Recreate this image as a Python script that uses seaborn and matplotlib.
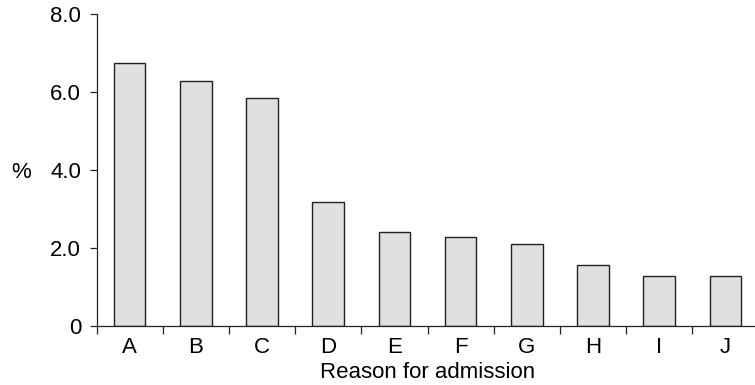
import matplotlib
matplotlib.use("Agg")
import matplotlib.pyplot as plt
import seaborn as sns
import pandas as pd
import numpy as np

# data
reasons = ["A", "B", "C", "D", "E", "F", "G", "H", "I", "J"]
percent = [6.73, 6.28, 5.84, 3.17, 2.40, 2.28, 2.09, 1.56, 1.28, 1.28]
y_ticks = [0, 2, 4, 6, 8]
y_tick_labels = ["0", "2.0", "4.0", "6.0", "8.0"]

df = pd.DataFrame({"reason": reasons, "percent": percent})

sns.set_style("ticks")
plt.rcParams["font.family"] = ["Liberation Sans", "DejaVu Sans"]
plt.rcParams["font.size"] = 16
for k in ["text.color", "axes.labelcolor", "xtick.color", "ytick.color",
          "xtick.labelcolor", "ytick.labelcolor"]:
    plt.rcParams[k] = "black"

fig = plt.figure(figsize=(7.55, 3.85), dpi=100)
ax = fig.add_axes([96.5 / 755, (385 - 325.5) / 385, 662 / 755, (325.5 - 13.7) / 385])

sns.barplot(data=df, x="reason", y="percent", color="#e0e0e0", saturation=1,
            edgecolor="#222222", linewidth=1.0, width=0.48, ax=ax)

ax.set_xlim(-0.5, len(reasons) - 0.5)
ax.set_ylim(0, 8)
ax.set_yticks(y_ticks)
ax.set_yticklabels(y_tick_labels)

# ticks between categories on the x axis
ax.set_xticks(np.arange(len(reasons) + 1) - 0.5, minor=True)
ax.tick_params(axis="x", which="major", length=0, pad=8, labelsize=16)
ax.tick_params(axis="x", which="minor", length=6, width=0.9, color="#222222")
ax.tick_params(axis="y", length=5, width=0.9, pad=6, labelsize=16, color="#222222")

sns.despine(ax=ax)
for s in ["left", "bottom"]:
    ax.spines[s].set_linewidth(0.9)
    ax.spines[s].set_color("#222222")

ax.set_xlabel("Reason for admission", fontsize=16, labelpad=3)
ax.set_ylabel("%", rotation=0, fontsize=16, va="center", ha="center")
ax.yaxis.set_label_coords(-0.114, 0.49)

fig.savefig("out.png", dpi=100)
